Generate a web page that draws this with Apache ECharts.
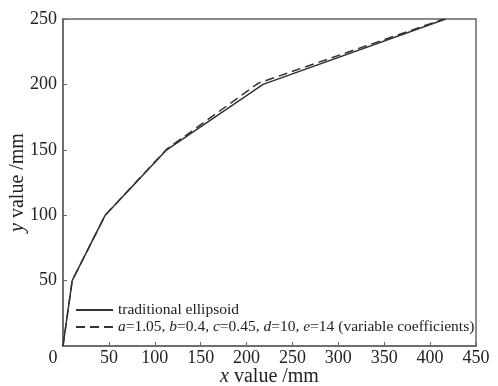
<!DOCTYPE html>
<html>
<head>
<meta charset="utf-8">
<script src="https://cdn.jsdelivr.net/npm/echarts@6/dist/echarts.min.js"></script>
<style>
  html, body { margin: 0; padding: 0; background: #fff; }
  #chart { width: 498px; height: 386px; }
</style>
</head>
<body>
<div id="chart"></div>
<script>
const solidX = [0, 10, 46, 113, 218, 417];
const solidY = [0, 50, 100, 150, 200, 250];
const dashedX = [0, 10, 46, 113, 213, 415];
const dashedY = [0, 50, 100, 150.5, 201, 250];
const xTicks = [0, 50, 100, 150, 200, 250, 300, 350, 400, 450];
const yTicks = [0, 50, 100, 150, 200, 250];

const seriesNames = ['traditional ellipsoid', 'variable'];

const zip = (xs, ys) => xs.map((x, i) => [x, ys[i]]);

const serif = '"Liberation Serif", "DejaVu Serif", serif';
const ink = '#333';

const chart = echarts.init(document.getElementById('chart'));

const option = {
  animation: false,
  backgroundColor: '#fff',
  textStyle: { fontFamily: serif, color: '#222' },
  grid: {
    left: 63, right: 22, top: 19, bottom: 40,
    outerBoundsMode: 'none',
    containLabel: false,
    show: true, borderColor: '#666', borderWidth: 1.5
  },
  legend: {
    orient: 'vertical',
    left: 70, top: 297,
    itemWidth: 37, itemHeight: 10, itemGap: 1,
    itemStyle: { opacity: 0 },
    data: seriesNames,
    textStyle: {
      fontFamily: serif, fontSize: 15.5, color: '#222',
      rich: { i: { fontFamily: serif, fontSize: 15.5, fontStyle: 'italic', color: '#222' } }
    },
    formatter: name => name === 'variable'
      ? '{i|a}=1.05, {i|b}=0.4, {i|c}=0.45, {i|d}=10, {i|e}=14 (variable coefficients)'
      : name
  },
  xAxis: {
    type: 'value',
    min: xTicks[0], max: xTicks[xTicks.length - 1], interval: 50,
    name: '{i|x} value /mm',
    nameLocation: 'middle', nameGap: 21, nameMoveOverlap: false,
    nameTextStyle: {
      fontFamily: serif, fontSize: 20, color: '#222',
      rich: { i: { fontFamily: serif, fontSize: 20, fontStyle: 'italic', color: '#222' } }
    },
    axisLine: { lineStyle: { color: '#666', width: 1.5 } },
    axisTick: { inside: true, length: 4, lineStyle: { color: '#666' } },
    splitLine: { show: false },
    axisLabel: {
      margin: 3, fontFamily: serif, fontSize: 18, color: '#222',
      formatter: v => v === 0 ? '{z|0}' : String(v),
      rich: { z: { fontFamily: serif, fontSize: 18, color: '#222', padding: [0, 20, 0, 0] } }
    }
  },
  yAxis: {
    type: 'value',
    min: yTicks[0], max: yTicks[yTicks.length - 1], interval: 50,
    name: '{i|y} value /mm',
    nameLocation: 'middle', nameGap: 35, nameMoveOverlap: false,
    nameTextStyle: {
      fontFamily: serif, fontSize: 20, color: '#222',
      rich: { i: { fontFamily: serif, fontSize: 20, fontStyle: 'italic', color: '#222' } }
    },
    axisLine: { show: true, lineStyle: { color: '#666', width: 1.5 } },
    axisTick: { show: true, inside: true, length: 4, lineStyle: { color: '#666' } },
    splitLine: { show: false },
    axisLabel: {
      margin: 6, fontFamily: serif, fontSize: 18, color: '#222',
      showMinLabel: false
    }
  },
  series: [
    {
      name: seriesNames[0],
      type: 'line',
      data: zip(solidX, solidY),
      symbol: 'none',
      lineStyle: { color: ink, width: 1.5 },
      itemStyle: { color: ink }
    },
    {
      name: seriesNames[1],
      type: 'line',
      data: zip(dashedX, dashedY),
      symbol: 'none',
      lineStyle: { color: ink, width: 1.5, type: [9, 5] },
      itemStyle: { color: ink }
    }
  ]
};

chart.setOption(option);
window.addEventListener('resize', () => chart.resize());
</script>
</body>
</html>
